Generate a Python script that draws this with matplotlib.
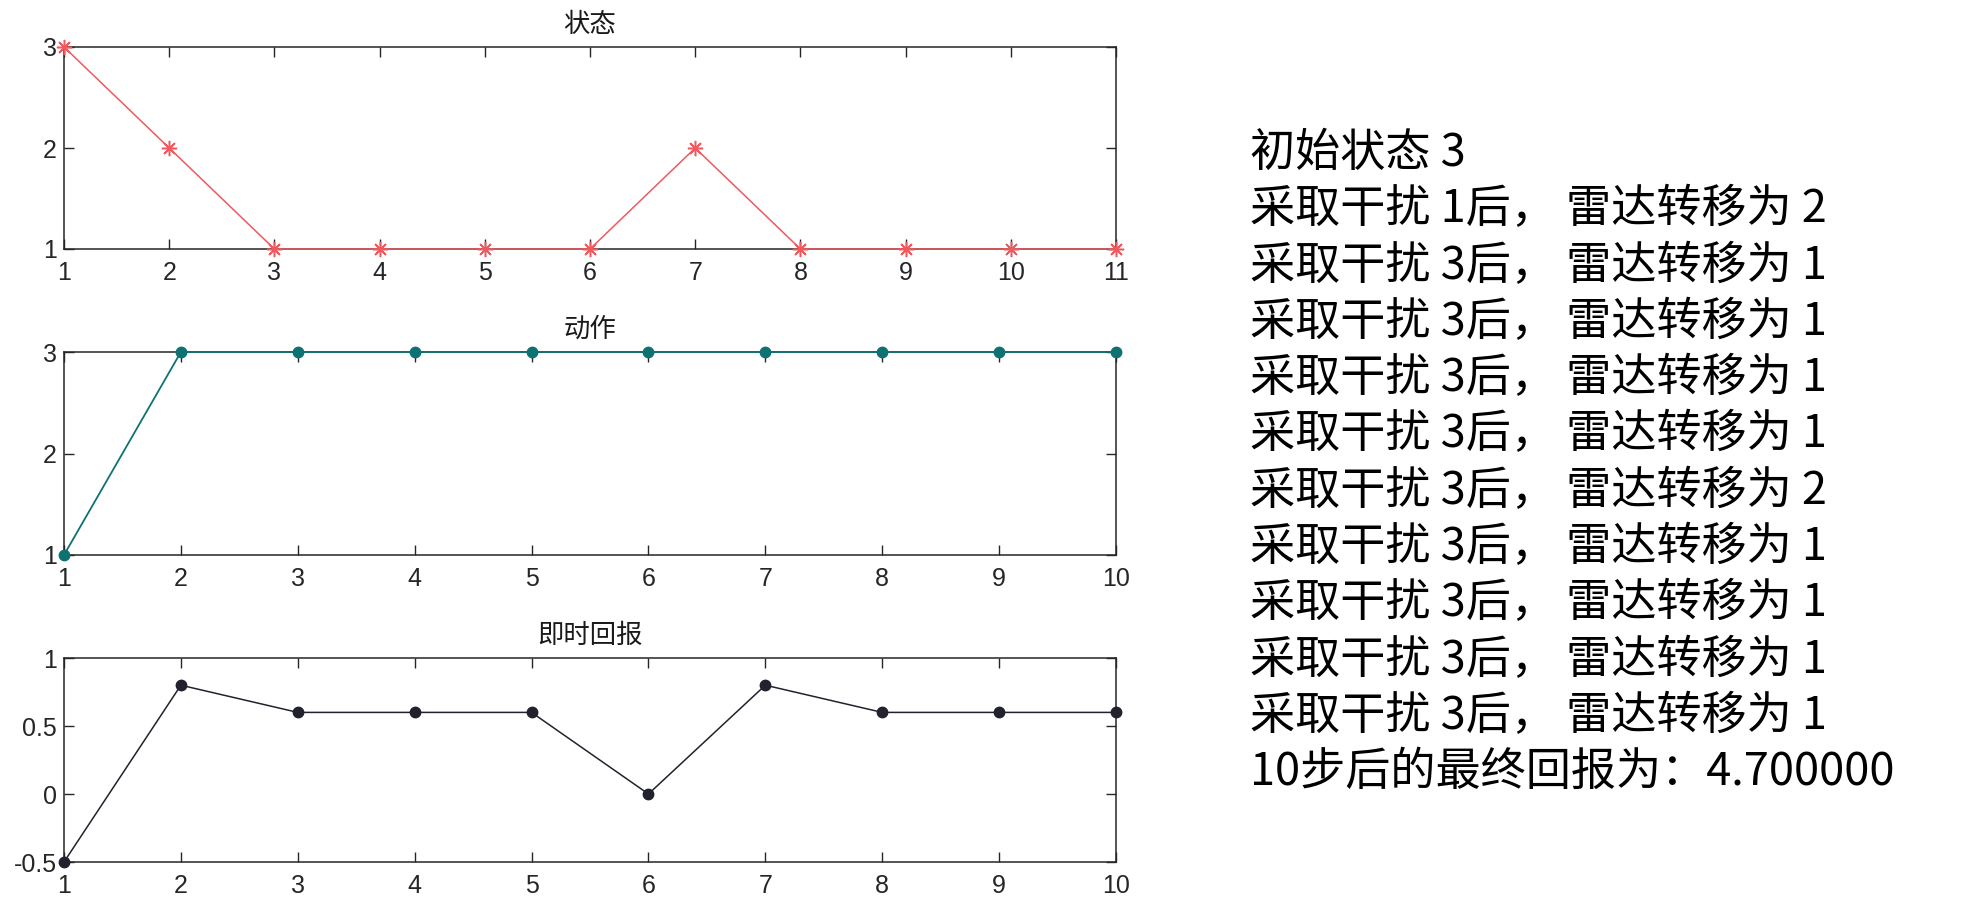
import matplotlib
matplotlib.use('Agg')
import matplotlib.pyplot as plt

# data
state_steps = list(range(1, 12))
states = [3, 2, 1, 1, 1, 1, 2, 1, 1, 1, 1]
action_steps = list(range(1, 11))
actions = [1, 3, 3, 3, 3, 3, 3, 3, 3, 3]
reward_steps = list(range(1, 11))
rewards = [-0.5, 0.8, 0.6, 0.6, 0.6, 0, 0.8, 0.6, 0.6, 0.6]
final_return = 4.7

titles = ['状态', '动作', '即时回报']
state_yticks = [1, 2, 3]
action_yticks = [1, 2, 3]
reward_yticks = [-0.5, 0, 0.5, 1]

tick_font = ['Liberation Sans Narrow', 'Liberation Sans', 'DejaVu Sans']
cjk_font = ['Noto Sans CJK SC', 'DejaVu Sans']

plt.rcParams['font.family'] = cjk_font
axis_color = '#262626'

fig = plt.figure(figsize=(19.84, 9.17), dpi=100)

W, H = 1984, 917
left, right = 64, 1116
boxes = [(47, 249), (352, 555), (658, 862)]


def make_axes(top, bottom):
    return fig.add_axes([left / W, 1 - bottom / H, (right - left) / W, (bottom - top) / H])


def style_axes(ax, title, xticks, yticks, ylim):
    ax.set_xlim(xticks[0], xticks[-1])
    ax.set_ylim(*ylim)
    ax.set_xticks(xticks)
    ax.set_yticks(yticks)
    ax.set_yticklabels([f'{v:g}' for v in yticks])
    ax.tick_params(direction='in', length=7, width=1.0, color=axis_color,
                   top=True, right=True, labelsize=18, labelcolor=axis_color)
    ax.tick_params(axis='x', pad=8.5)
    ax.tick_params(axis='y', pad=5)
    for lab in ax.get_xticklabels() + ax.get_yticklabels():
        lab.set_family(tick_font)
    for sp in ax.spines.values():
        sp.set_color(axis_color)
        sp.set_linewidth(1.1)
    ax.set_title(title, fontsize=19, pad=11, color='#1a1a1a', family=cjk_font)


ax1 = make_axes(*boxes[0])
ax1.plot(state_steps, states, color='#EE5A5E', lw=1.1, marker=(8, 2, 0),
         markersize=11, markeredgewidth=1.1, clip_on=False, zorder=3)
style_axes(ax1, titles[0], state_steps, state_yticks, (1, 3))

ax2 = make_axes(*boxes[1])
ax2.plot(action_steps, actions, color='#0F7272', lw=1.3, marker='o',
         markersize=7.5, clip_on=False, zorder=3)
style_axes(ax2, titles[1], action_steps, action_yticks, (1, 3))

ax3 = make_axes(*boxes[2])
ax3.plot(reward_steps, rewards, color='#22222E', lw=1.1, marker='o',
         markersize=7.5, clip_on=False, zorder=3)
style_axes(ax3, titles[2], reward_steps, reward_yticks, (-0.5, 1))

# text log on the right
lines = [f'初始状态 {states[0]}']
for a, s in zip(actions, states[1:]):
    lines.append(f'采取干扰 {a}后， 雷达转移为 {s}')
lines.append(f'{len(actions)}步后的最终回报为：{final_return:.6f}')

y0, dy = 153, 56.3
for i, line in enumerate(lines):
    fig.text(1250 / W, 1 - (y0 + dy * i) / H, line, fontsize=32.5,
             va='center', ha='left', color='black', family=cjk_font)

fig.savefig('out.png', dpi=100)
